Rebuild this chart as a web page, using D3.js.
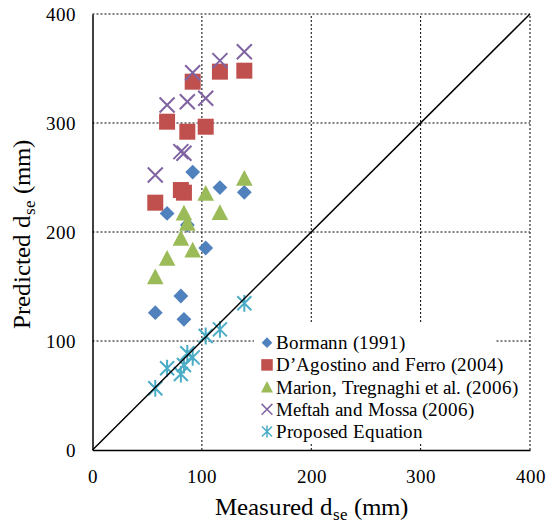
<!DOCTYPE html>
<html><head><meta charset="utf-8">
<script src="https://cdn.jsdelivr.net/npm/d3@7"></script>
<style>
@font-face{font-family:"ChartSerif";src:local("Liberation Serif"),local("LiberationSerif-Regular"),local("LiberationSerif"),local("Times New Roman"),local("DejaVu Serif"),local("DejaVuSerif");}
body{margin:0;background:#fff}svg{display:block}
text{font-family:"ChartSerif","Liberation Serif","DejaVu Serif",serif;}
</style>
</head><body><svg id="c" width="547" height="523"></svg>
<script>
const measured   = [57.4, 68.2, 80.8, 83.6, 86.7, 91.6, 103.5, 116.5, 138.8];
const bormann    = [126.0, 217.0, 141.3, 119.9, 206.4, 255.0, 185.3, 240.8, 236.4];
const dagostino  = [226.9, 301.2, 238.5, 236.1, 292.0, 337.9, 296.6, 347.1, 348.0];
const marion     = [159.0, 175.9, 194.2, 217.4, 208.0, 183.5, 235.5, 217.9, 249.3];
const meftah     = [252.3, 316.5, 273.7, 272.2, 319.5, 346.1, 322.7, 357.2, 365.4];
const proposed   = [56.6, 75.0, 69.7, 78.0, 88.7, 85.0, 104.6, 110.7, 134.6];
const seriesNames = ["Bormann (1991)", "D\u2019Agostino and Ferro (2004)", "Marion, Tregnaghi et al. (2006)", "Meftah and Mossa (2006)", "Proposed Equation"];
const ticks = [0, 100, 200, 300, 400];

const series = [
  {name: seriesNames[0], values: bormann,   color: "#4f81bd", shape: "diamond"},
  {name: seriesNames[1], values: dagostino, color: "#c0504d", shape: "square"},
  {name: seriesNames[2], values: marion,    color: "#9bbb59", shape: "triangle"},
  {name: seriesNames[3], values: meftah,    color: "#8064a2", shape: "x"},
  {name: seriesNames[4], values: proposed,  color: "#4bacc6", shape: "star"}
];

const svg = d3.select("#c");
const x = d3.scaleLinear().domain([0, 400]).range([92.5, 530]);
const y = d3.scaleLinear().domain([0, 400]).range([450, 14]);

// grid
const g = svg.append("g");
g.selectAll(".gx").data(ticks.filter(t => t > 0)).join("line")
  .attr("x1", d => x(d)).attr("x2", d => x(d)).attr("y1", y(0)).attr("y2", y(400))
  .attr("stroke", "#000").attr("stroke-width", 1).attr("stroke-dasharray", "2,2");
g.selectAll(".gy").data(ticks.filter(t => t > 0)).join("line")
  .attr("x1", x(0)).attr("x2", x(400)).attr("y1", d => y(d)).attr("y2", d => y(d))
  .attr("stroke", "#000").attr("stroke-width", 1).attr("stroke-dasharray", "2,2");

// axes
const xAxis = d3.axisBottom(x).tickValues(ticks).tickSize(0).tickPadding(20);
const yAxis = d3.axisLeft(y).tickValues(ticks).tickSize(0).tickPadding(17);
const gx = svg.append("g").attr("transform", `translate(0,${y(0)})`).call(xAxis);
const gy = svg.append("g").attr("transform", `translate(${x(0)},0)`).call(yAxis);
[gx, gy].forEach(a => {
  a.attr("font-family", null).attr("font-size", null);
  a.select(".domain").attr("stroke", "#000").attr("stroke-width", 1.5);
  a.selectAll("text").attr("font-size", 19).attr("fill", "#000");
});

function markerPath(shape, s) {
  if (shape === "diamond") return `M0,${-s}L${s},0L0,${s}L${-s},0Z`;
  if (shape === "square") return `M${-s},${-s}H${s}V${s}H${-s}Z`;
  if (shape === "triangle") return `M0,${-s}L${s},${s*0.9}L${-s},${s*0.9}Z`;
  if (shape === "x") return `M${-s},${-s}L${s},${s}M${s},${-s}L${-s},${s}`;
  return `M${-s},${-s}L${s},${s}M${s},${-s}L${-s},${s}M0,${-s*1.2}V${s*1.2}`;
}
const sizes = {diamond: 7.4, square: 8, triangle: 8.3, x: 7.5, star: 7};
function drawMarker(sel, sr, scale) {
  const s = sizes[sr.shape] * scale;
  const p = sel.append("path").attr("d", markerPath(sr.shape, s));
  if (sr.shape === "x" || sr.shape === "star") {
    p.attr("fill", "none").attr("stroke", sr.color).attr("stroke-width", scale < 1 ? 1.5 : 2);
  } else {
    p.attr("fill", sr.color);
  }
}

const plot = svg.append("g");
series.forEach(sr => {
  sr.values.forEach((v, i) => {
    const m = plot.append("g").attr("transform", `translate(${x(measured[i])},${y(v)})`);
    drawMarker(m, sr, 1);
  });
});

// 1:1 line
svg.append("line").attr("x1", x(0)).attr("y1", y(0)).attr("x2", x(400)).attr("y2", y(400))
  .attr("stroke", "#000").attr("stroke-width", 1.5);

// legend
const lg = svg.append("g");
lg.append("rect").attr("x", 254).attr("y", 322).attr("width", 242).attr("height", 122).attr("fill", "#fff");
series.forEach((sr, i) => {
  const cy = 342.7 + i * 22.2;
  const m = lg.append("g").attr("transform", `translate(267,${cy})`);
  drawMarker(m, sr, 0.72);
  lg.append("text").attr("x", 276).attr("y", cy + 6.5).attr("font-size", 19)
    .attr("fill", "#000").text(sr.name);
});

// titles
const xt = svg.append("text").attr("x", 311).attr("y", 515).attr("text-anchor", "middle")
  .attr("font-size", 25).attr("fill", "#000");
xt.append("tspan").text("Measured d");
xt.append("tspan").attr("font-size", 17).attr("dy", 5).text("se");
xt.append("tspan").attr("dy", -5).text(" (mm)");

const yt = svg.append("text").attr("transform", "translate(30,234) rotate(-90)").attr("text-anchor", "middle")
  .attr("font-size", 25).attr("fill", "#000");
yt.append("tspan").text("Predicted d");
yt.append("tspan").attr("font-size", 17).attr("dy", 5).text("se");
yt.append("tspan").attr("dy", -5).text(" (mm)");
</script></body></html>
